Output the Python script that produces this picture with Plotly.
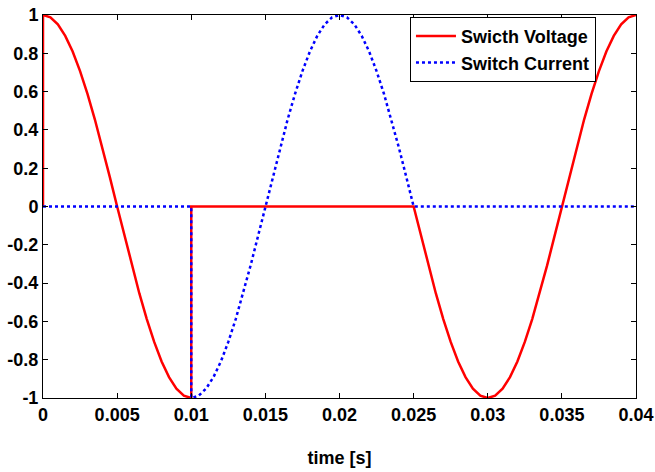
import plotly.graph_objects as go

# Switch voltage samples (s, per-unit); vertical steps repeat the time stamp
volt_t = [0.0, 0.0, 0.0005, 0.001, 0.0015, 0.002, 0.0025, 0.003, 0.0035, 0.004, 0.0045,
          0.005, 0.0055, 0.006, 0.0065, 0.007, 0.0075, 0.008, 0.0085, 0.009, 0.0095,
          0.01, 0.01, 0.025, 0.0255, 0.026, 0.0265, 0.027, 0.0275, 0.028, 0.0285,
          0.029, 0.0295, 0.03, 0.0305, 0.031, 0.0315, 0.032, 0.0325, 0.033, 0.0335,
          0.034, 0.0345, 0.035, 0.0355, 0.036, 0.0365, 0.037, 0.0375, 0.038, 0.0385,
          0.039, 0.0395, 0.04]
volt_v = [0.0, 1.0, 0.988, 0.951, 0.891, 0.809, 0.707, 0.588, 0.454, 0.309, 0.156,
          0.0, -0.156, -0.309, -0.454, -0.588, -0.707, -0.809, -0.891, -0.951, -0.988,
          -1.0, 0.0, 0.0, -0.156, -0.309, -0.454, -0.588, -0.707, -0.809, -0.891,
          -0.951, -0.988, -1.0, -0.988, -0.951, -0.891, -0.809, -0.707, -0.588, -0.454,
          -0.309, -0.156, 0.0, 0.156, 0.309, 0.454, 0.588, 0.707, 0.809, 0.891,
          0.951, 0.988, 1.0]

# Switch current samples (s, per-unit)
curr_t = [0.0, 0.01, 0.01, 0.0105, 0.011, 0.0115, 0.012, 0.0125, 0.013, 0.0135, 0.014,
          0.0145, 0.015, 0.0155, 0.016, 0.0165, 0.017, 0.0175, 0.018, 0.0185, 0.019,
          0.0195, 0.02, 0.0205, 0.021, 0.0215, 0.022, 0.0225, 0.023, 0.0235, 0.024,
          0.0245, 0.025, 0.04]
curr_i = [0.0, 0.0, -1.0, -0.988, -0.951, -0.891, -0.809, -0.707, -0.588, -0.454, -0.309,
          -0.156, 0.0, 0.156, 0.309, 0.454, 0.588, 0.707, 0.809, 0.891, 0.951,
          0.988, 1.0, 0.988, 0.951, 0.891, 0.809, 0.707, 0.588, 0.454, 0.309,
          0.156, 0.0, 0.0]

x_ticks = [0, 0.005, 0.01, 0.015, 0.02, 0.025, 0.03, 0.035, 0.04]
x_labels = ["0", "0.005", "0.01", "0.015", "0.02", "0.025", "0.03", "0.035", "0.04"]
y_ticks = [-1, -0.8, -0.6, -0.4, -0.2, 0, 0.2, 0.4, 0.6, 0.8, 1]
y_labels = ["-1", "-0.8", "-0.6", "-0.4", "-0.2", "0", "0.2", "0.4", "0.6", "0.8", "1"]

FONT = "Liberation Sans, Arial, sans-serif"
TXT = dict(family=FONT, size=18, color="black", weight="bold")

fig = go.Figure()
fig.add_trace(go.Scatter(x=volt_t, y=volt_v, mode="lines", name="Swicth Voltage",
                         line=dict(color="#ff0000", width=2.5)))
fig.add_trace(go.Scatter(x=curr_t, y=curr_i, mode="lines", name="Switch Current",
                         line=dict(color="#0000ff", width=2.5, dash="dot")))

axis_common = dict(showline=True, linecolor="black", linewidth=1, mirror="ticks",
                   ticks="inside", ticklen=5, tickcolor="black", showgrid=False,
                   zeroline=False, automargin=False, tickfont=TXT)

fig.update_xaxes(range=[0, 0.04], tickvals=x_ticks, ticktext=x_labels,
                 title=dict(text="time [s]", standoff=27, font=TXT),
                 **axis_common)
fig.update_yaxes(range=[-1, 1], tickvals=y_ticks, ticktext=y_labels, **axis_common)

fig.update_layout(
    width=655, height=472,
    margin=dict(l=43, r=19, t=15, b=74),
    plot_bgcolor="white", paper_bgcolor="white",
    legend=dict(x=0.9325, y=0.995, xanchor="right", yanchor="top",
                bgcolor="white", bordercolor="black", borderwidth=1,
                font=TXT, tracegroupgap=0, itemwidth=40),
)

fig.write_html("out.html")
